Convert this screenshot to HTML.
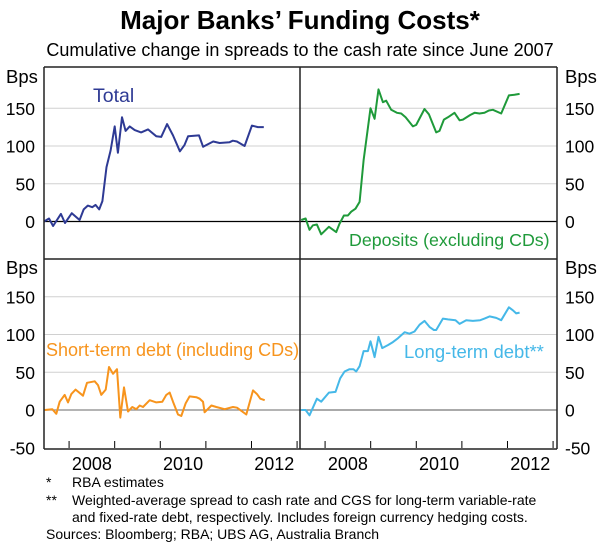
<!DOCTYPE html>
<html><head><meta charset="utf-8"><style>
body{margin:0;background:#fff;}
svg{display:block;font-family:"Liberation Sans",Arial,sans-serif;}
</style></head><body>
<svg id="c" width="600" height="550">
<text x="300" y="29" text-anchor="middle" font-size="26" font-weight="bold">Major Banks’ Funding Costs*</text>
<text x="300" y="56" text-anchor="middle" font-size="18">Cumulative change in spreads to the cash rate since June 2007</text>
<g id="plot"></g>
<g font-size="14">
<text x="46" y="487">*</text><text x="72" y="487">RBA estimates</text>
<text x="46" y="505">**</text><text x="72" y="505">Weighted-average spread to cash rate and CGS for long-term variable-rate</text>
<text x="72" y="522">and fixed-rate debt, respectively. Includes foreign currency hedging costs.</text>
<text x="46" y="539">Sources: Bloomberg; RBA; UBS AG, Australia Branch</text>
</g>
</svg>
<script>
const yTicks=[-50,0,50,100,150];
const xYears=[2008,2009,2010,2011,2012,2013];
const xLabels=[2008,2010,2012];
const totalX=[2007.45,2007.56,2007.65,2007.82,2007.91,2008.06,2008.23,2008.32,2008.41,2008.51,2008.58,2008.66,2008.73,2008.82,2008.91,2009.00,2009.07,2009.16,2009.24,2009.33,2009.44,2009.58,2009.73,2009.91,2010.02,2010.15,2010.28,2010.43,2010.53,2010.61,2010.85,2010.94,2011.16,2011.30,2011.52,2011.59,2011.68,2011.85,2012.01,2012.14,2012.27];
const totalY=[0,4,-6,10,-2,11,2,16,21,19,22,16,27,72,94,126,91,138,120,126,121,118,122,113,112,129,114,93,101,113,114,99,106,104,105,107,106,100,127,125,125];
const depX=[5,18,30,40,52,65,88,110,120,133,145,155,168,180,192,213,225,237,250,260,275,292,305,318,340,350,375,388,410,420,433,445,465,480,490,512,525,540,555,568,580,605,628,645,660].map(z=>+(2007.44+z/136.8).toFixed(3));
const depY=[2,4,-11,-5,-4,-17,-7,-14,-3,8,8,13,17,26,81,150,136,175,158,160,148,144,143,138,126,128,149,142,118,120,135,138,144,134,135,141,144,143,144,147,148,143,167,168,169];
const stX=[135,158,170,180,195,205,215,228,250,262,285,295,305,318,328,340,352,362,373,385,398,410,420,430,450,470,488,500,510,520,535,545,558,570,590,600,610,615,635,650,675,700,712,725,740,760,772,782,795].map(z=>+(2007.45+(z-133)/136.8).toFixed(3));
const stY=[0,1,-5,11,20,10,21,27,19,36,38,33,20,27,57,48,54,-10,30,-2,4,1,6,4,13,10,11,20,23,11,-6,-8,9,18,17,15,11,-3,6,4,1,4,3,-1,-6,26,21,15,13];
const ltX=[5,18,30,52,65,88,108,122,135,150,162,170,180,192,205,213,225,237,248,265,280,295,315,330,345,360,375,390,403,410,430,445,468,480,500,520,542,555,570,590,605,628,640,650,660].map(z=>+(2007.44+z/136.8).toFixed(3));
const ltY=[0,0,-7,15,11,23,24,42,51,54,54,51,58,78,78,91,70,97,82,86,90,95,103,101,104,113,118,110,106,106,121,120,119,114,119,118,119,121,124,122,119,136,132,128,129];

const NS="http://www.w3.org/2000/svg";
const g=document.getElementById('plot');
function el(t,a,p){const e=document.createElementNS(NS,t);for(const k in a)e.setAttribute(k,a[k]);(p||g).appendChild(e);return e;}
const panels=[
 {x0:44,x1:300,y0:221.5,top:68,bot:259,xs:totalX,ys:totalY,col:"#2e3a94",name:"total",side:"l",zero:"#000"},
 {x0:300,x1:557,y0:221.5,top:68,bot:259,xs:depX,ys:depY,col:"#1f9a3a",name:"deposits",side:"r",zero:"#000"},
 {x0:44,x1:300,y0:410,top:259,bot:448,xs:stX,ys:stY,col:"#f7941d",name:"short-term-debt",side:"l",zero:"#888"},
 {x0:300,x1:557,y0:410,top:259,bot:448,xs:ltX,ys:ltY,col:"#45b8e8",name:"long-term-debt",side:"r",zero:"#777"}];
const t0=2007.45,pxYear=45.6,pxUnit=37.75/50;
panels.forEach(p=>{
 const X=t=>p.x0+(t-t0)*pxYear, Y=v=>p.y0-v*pxUnit;
 yTicks.forEach(v=>{ if(v!==0&&v!==-50){const l=el('line',{x1:p.x0,x2:p.x1,y1:Y(v),y2:Y(v),stroke:"#d0d0d0","stroke-width":1});
  
  }});
 const z=el('line',{x1:p.x0,x2:p.x1,y1:Y(0),y2:Y(0),stroke:p.zero,"stroke-width":1.2});
 
 
 if(p.bot>400){xYears.forEach(yr=>{const x=X(yr); if(x>p.x0+2&&x<p.x1-2){const t=el('line',{x1:x,x2:x,y1:p.bot,y2:p.bot-7,stroke:"#000","stroke-width":1});
  
  }});
  xLabels.forEach(yr=>{const t=el('text',{x:X(yr+0.5),y:470,"text-anchor":"middle","font-size":18});t.textContent=yr;
  
  });}
 const d=p.xs.map((t,i)=>(i?'L':'M')+X(t).toFixed(1)+','+Y(p.ys[i]).toFixed(1)).join('');
 const path=el('path',{d:d,fill:"none",stroke:p.col,"stroke-width":2,"stroke-linejoin":"round"});
 
 
 yTicks.forEach(v=>{ if(p.top<100&&v===-50)return;
  const t=el('text',{x:p.side==='l'?35:565,y:Y(v)+6.5,"text-anchor":p.side==='l'?'end':'start',"font-size":17.5});t.textContent=v;
  
  });
 const b=el('text',{x:p.side==='l'?6:565,y:p.top+15,"font-size":18.5});b.textContent="Bps";
 
 
});
[[44,67,557,67],[44,259,557,259],[44,449,557,449],[44,67,44,449],[557,67,557,449],[300,67,300,449]].forEach(a=>{
 const l=el('line',{x1:a[0],y1:a[1],x2:a[2],y2:a[3],stroke:"#222","stroke-width":1.5});
 
 });
const labs=[["Total",93,102,"#2e3a94",19.5],["Deposits (excluding CDs)",349,246,"#1f9a3a",17.8],["Short-term debt (including CDs)",46,356,"#f7941d",18],["Long-term debt**",404,358,"#45b8e8",18.5]];
labs.forEach(a=>{const t=el('text',{x:a[1],y:a[2],"font-size":a[4],fill:a[3]});t.textContent=a[0];
 
 });
</script>
</body></html>
